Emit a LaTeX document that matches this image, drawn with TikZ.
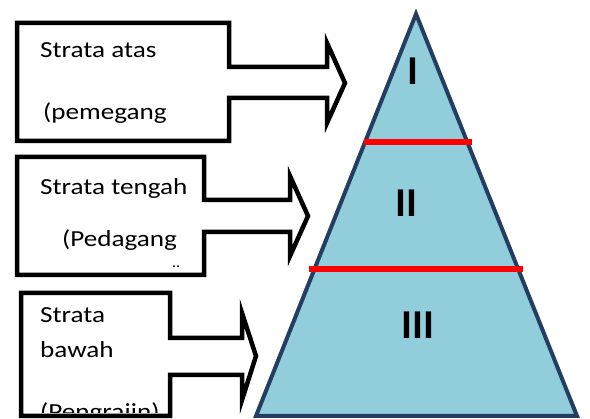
\documentclass[tikz,border=0pt]{standalone}
\usepackage{fontspec}
\usepackage{graphicx}
\setmainfont{Carlito}
\definecolor{pyrfill}{RGB}{146,205,220}
\definecolor{pyrline}{RGB}{35,62,96}
\newcommand{\wide}[1]{\scalebox{1.18}[1]{#1}}
\begin{document}
\begin{tikzpicture}[x=1pt, y=-1pt,
    boxline/.style={line width=4.5pt, line join=miter, black},
    redline/.style={line width=6pt, red},
    boxtext/.style={anchor=base west, inner sep=0pt, font=\fontsize{23}{28}\selectfont},
    numeral/.style={anchor=base, inner sep=0pt, font=\fontsize{41}{48}\selectfont\bfseries}]
    \useasboundingbox (0, 0) rectangle (590, 419);
    \clip (0, 0) rectangle (590, 419);

    % ---------------------------------------------
    % pyramid
    \draw[line width=4pt, line join=miter, draw=pyrline, fill=pyrfill]
        (416, 14) -- (577, 416) -- (256, 416) -- cycle;
    \draw[redline] (364, 142) -- (472, 142);
    \draw[redline] (309, 269) -- (523, 269);
    \node[numeral] (lvl1) at (413, 85) {I};
    \node[numeral] (lvl2) at (406, 217) {II};
    \node[numeral] (lvl3) at (418, 339) {III};

    % ---------------------------------------------
    % upper stratum box with arrow
    \draw[boxline] (17, 23) -- (229, 23) -- (229, 67) -- (327, 67) -- (327, 43)
        -- (345, 83) -- (327, 123) -- (327, 98) -- (229, 98) -- (229, 141)
        -- (17, 141) -- cycle;
    \node[boxtext] (atas1) at (40, 58) {\wide{Strata atas}};
    \node[boxtext] (atas2) at (43, 120) {\wide{(pemegang}};

    % ---------------------------------------------
    % middle stratum box with arrow
    \draw[boxline] (17, 157) -- (204, 157) -- (204, 200) -- (290, 200) -- (290, 176)
        -- (308, 216) -- (290, 256) -- (290, 232) -- (204, 232) -- (204, 275)
        -- (17, 275) -- cycle;
    \node[boxtext] (tengah1) at (40, 195) {\wide{Strata tengah}};
    \node[boxtext] (tengah2) at (62, 247) {\wide{(Pedagang}};
    \node[boxtext, font=\fontsize{16}{18}\selectfont] (tengah3) at (172, 268) {..};

    % ---------------------------------------------
    % lower stratum box with arrow
    \draw[boxline] (21, 293) -- (170, 293) -- (170, 338) -- (242, 338) -- (242, 313)
        -- (256, 356) -- (242, 400) -- (242, 375) -- (170, 375) -- (170, 416)
        -- (21, 416) -- cycle;
    \node[boxtext] (bawah1) at (40, 323) {\wide{Strata}};
    \node[boxtext] (bawah2) at (40, 358) {\wide{bawah}};
    \begin{scope}
        \clip (24, 296) rectangle (167, 413);
        \node[boxtext] (bawah3) at (40, 420) {\wide{(Pengrajin)}};
    \end{scope}

\end{tikzpicture}
\end{document}
